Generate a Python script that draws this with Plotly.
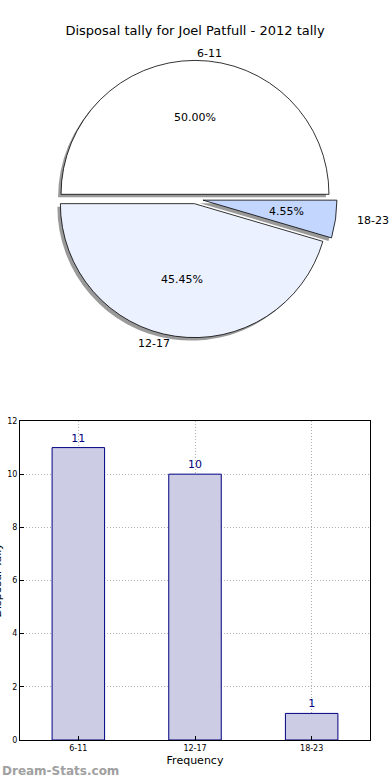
import math
import plotly.graph_objects as go

categories = ["6-11", "12-17", "18-23"]
counts = [11, 10, 1]
pie_colors = ["#FFFFFF", "#EBF1FE", "#C2D6FE"]
pulls = [0.035, 0.035, 0.06]
y_ticks = [0, 2, 4, 6, 8, 10, 12]

W, H = 390, 780
FONT = "DejaVu Sans"

def px(x):
    return x / W

def py(y):
    return 1 - y / H

fig = go.Figure()

# pie geometry (pixels)
cx, cy, half = 195, 199, 142
dom_x = [px(cx - half), px(cx + half)]
dom_y = [py(cy + half), py(cy - half)]
r = half / (1 + max(pulls))
rx, ry = 140, 128  # label placement radii

# shadow pie
sh = 3
fig.add_trace(go.Pie(
    labels=categories, values=counts, sort=False, direction="counterclockwise",
    rotation=-90, pull=pulls, textinfo="none", hoverinfo="skip",
    marker=dict(colors=["#9a9a9a"] * 3, line=dict(color="#9a9a9a", width=0)),
    domain=dict(x=[px(cx - half - sh), px(cx + half - sh)], y=[py(cy + half + sh), py(cy - half + sh)]),
    showlegend=False,
))
fig.add_trace(go.Pie(
    labels=categories, values=counts, sort=False, direction="counterclockwise",
    rotation=-90, pull=pulls, textinfo="none",
    marker=dict(colors=pie_colors, line=dict(color="black", width=0.8)),
    domain=dict(x=dom_x, y=dom_y), showlegend=False,
))

# labels and percentages computed from data angles (start at 3 o'clock, counterclockwise)
total = sum(counts)
start = 0.0
annotations = []
for lab, v, p in zip(categories, counts, pulls):
    frac = v / total
    mid = (start + frac / 2) * 2 * math.pi
    start += frac
    c, s = math.cos(mid), math.sin(mid)
    ox = cx + p * r * c
    oy = cy - p * r * s
    annotations.append(dict(
        x=px(ox + 1.1 * rx * c), y=py(oy - 1.1 * ry * s), xref="paper", yref="paper",
        text=lab, showarrow=False,
        xanchor="left" if c > -1e-9 else "right", yanchor="middle",
        font=dict(family=FONT, size=11, color="black"),
    ))
    annotations.append(dict(
        x=px(ox + 0.6 * rx * c), y=py(oy - 0.6 * ry * s), xref="paper", yref="paper",
        text=f"{100 * frac:.2f}%", showarrow=False, xanchor="center", yanchor="middle",
        font=dict(family=FONT, size=11, color="black"),
    ))

# bar chart
fig.add_trace(go.Bar(
    x=categories, y=counts, width=0.45, text=[str(v) for v in counts],
    textposition="outside", textfont=dict(family=FONT, size=11, color="#000080"),
    marker=dict(color="#CCCCE5", line=dict(color="#000080", width=1)),
    xaxis="x", yaxis="y", showlegend=False, cliponaxis=False,
))

grid = dict(showgrid=True, gridcolor="#b0b0b0", griddash="1px,2px", gridwidth=1)
fig.update_layout(
    width=W, height=H, margin=dict(l=0, r=0, t=0, b=0, autoexpand=False),
    paper_bgcolor="white", plot_bgcolor="white",
    font=dict(family=FONT, color="black"),
    title=dict(text="Disposal tally for Joel Patfull - 2012 tally", x=0.5, xanchor="center",
               y=py(30), yanchor="middle", font=dict(family=FONT, size=13, color="black")),
    xaxis=dict(domain=[px(20), px(370)], anchor="y", range=[-0.5, 2.5], automargin=False,
               tickfont=dict(size=8), ticks="inside", ticklen=4, tickcolor="black",
               showline=True, linecolor="black", mirror=True, zeroline=False,
               title=dict(text="Frequency", font=dict(size=11), standoff=4), **grid),
    yaxis=dict(domain=[py(740), py(421)], anchor="x", range=[0, 12], tickvals=y_ticks,
               automargin=False,
               tickfont=dict(size=8), ticks="inside", ticklen=4, tickcolor="black",
               showline=True, linecolor="black", mirror=True, zeroline=False, **grid),
    annotations=annotations + [
        dict(x=px(-3.5), y=py(580), xref="paper", yref="paper", text="Disposal Tally",
             textangle=-90, showarrow=False, xanchor="center", yanchor="middle",
             font=dict(family=FONT, size=11, color="black")),
        dict(x=0, y=py(771), xref="paper", yref="paper", text="<b>Dream-Stats.com</b>",
             showarrow=False, xanchor="left", yanchor="middle",
             font=dict(family=FONT, size=12, color="#a0a0a0")),
    ],
)

fig.write_html("out.html", config={"displayModeBar": False},
               post_script="document.body.style.margin='0';document.body.style.overflow='hidden';")
